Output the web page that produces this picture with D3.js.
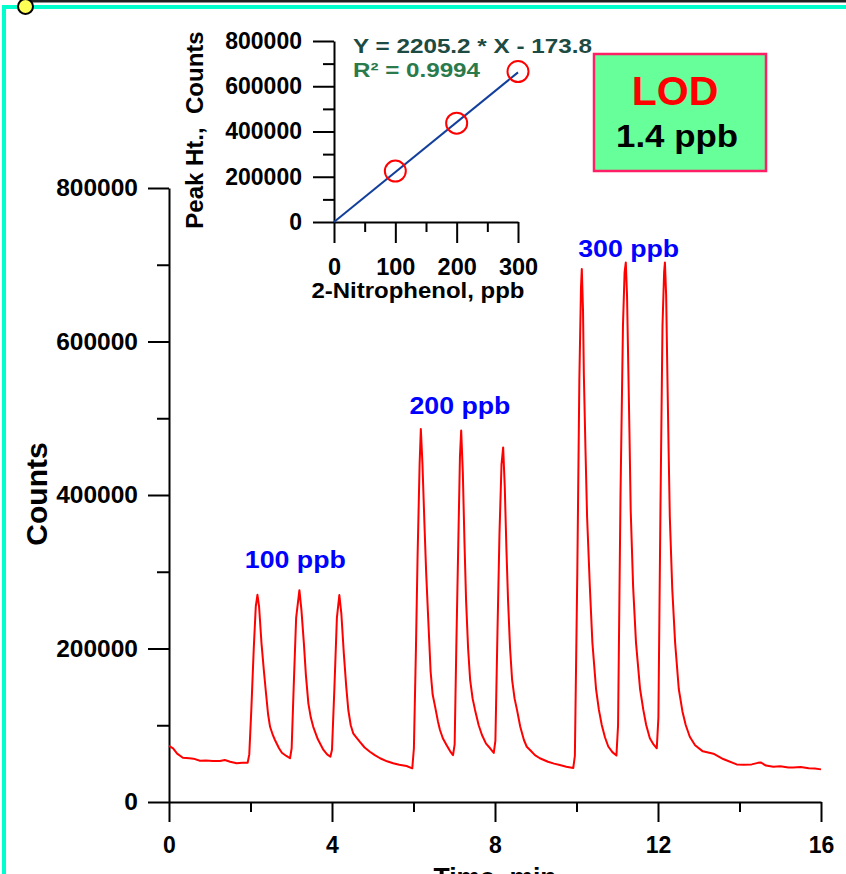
<!DOCTYPE html>
<html><head><meta charset="utf-8">
<script src="https://cdn.jsdelivr.net/npm/d3@7"></script>
<style>
body{margin:0;background:#fff;}
svg{display:block;}
text{font-family:"Liberation Sans",Arial,Helvetica,sans-serif;font-weight:bold;}
</style>
</head><body>
<svg id="c" width="846" height="874"></svg>
<script>
// ---------- Chromatogram data ----------
const timeMin = [
 0.00,0.10,0.20,0.34,0.50,0.60,0.76,0.90,1.08,1.25,1.37,1.50,1.66,1.80,1.93,
 1.97,2.02,2.08,2.13,2.17,2.21,2.27,2.33,2.38,2.43,2.48,2.55,2.60,2.70,2.77,2.88,2.97,
 3.01,3.06,3.12,3.20,3.25,3.31,3.36,3.42,3.48,3.54,3.65,3.79,3.88,3.96,
 4.00,4.06,4.12,4.18,4.23,4.29,4.35,4.40,4.46,4.52,4.60,4.68,4.80,4.93,5.05,5.18,5.35,5.50,5.65,5.83,5.97,
 6.01,6.06,6.10,6.15,6.18,6.22,6.27,6.31,6.36,6.42,6.47,6.53,6.60,6.65,6.72,6.81,6.90,6.97,
 7.01,7.05,7.10,7.14,7.17,7.21,7.25,7.29,7.34,7.39,7.45,7.51,7.60,7.68,7.78,7.88,7.97,
 8.01,8.06,8.11,8.16,8.20,8.24,8.28,8.32,8.37,8.42,8.48,8.54,8.62,8.71,8.78,8.86,8.98,9.10,9.30,9.45,9.59,9.75,9.92,
 9.96,10.02,10.07,10.11,10.13,10.16,10.18,10.22,10.26,10.33,10.39,10.48,10.55,10.62,10.70,10.78,10.88,10.98,
 11.02,11.08,11.14,11.18,11.21,11.24,11.26,11.30,11.33,11.39,11.46,11.56,11.64,11.71,11.80,11.89,11.97,
 12.01,12.06,12.11,12.15,12.17,12.20,12.23,12.26,12.29,12.35,12.42,12.51,12.60,12.68,12.78,12.91,13.10,13.36,13.60,13.93,
 14.10,14.30,14.45,14.52,14.65,14.83,15.00,15.20,15.32,15.50,15.70,15.85,16.00
];
const counts = [
 73000,70000,63000,57700,57000,56500,53800,54000,53400,53500,54700,52500,50400,51000,51200,
 62000,120000,200000,255000,270000,255000,206700,170000,142000,115000,98000,87000,80800,70000,64200,60000,57000,
 70000,150000,240000,276000,250000,206700,165000,128600,110000,98000,82000,67800,62000,59000,
 68000,150000,240000,269700,245000,193700,150000,119900,100000,89500,84000,78600,71000,65500,61000,57000,53000,50400,48500,46900,43900,
 70000,200000,320000,440000,486000,440000,360000,300000,240000,170000,140000,124200,105000,93800,83000,74300,66000,61000,
 75000,200000,340000,450000,484000,430000,340000,263000,200000,159000,135000,120000,100000,87300,76000,70000,64000,
 80000,220000,350000,440000,462000,410000,330000,263000,200000,159000,135000,120000,98000,80800,72000,67800,61000,57000,52500,50000,48200,46000,44300,
 60000,300000,550000,670000,694500,640000,557600,460000,371300,277500,207700,147200,120000,100300,84000,72300,65000,60600,
 100000,400000,620000,690000,703000,660000,600000,480000,380000,280000,207700,147200,120000,100300,83000,75000,70000,
 110000,380000,620000,690000,703000,660000,557600,460000,371300,277500,207700,147200,118000,100300,85000,74000,66000,62900,56000,49000,
 48500,49000,51000,51500,47500,46000,46500,45000,44800,45500,44000,43500,42500
];
const mainXTicks = [0,4,8,12,16];
const mainXMinor = [2,6,10,14];
const mainYTicks = [0,200000,400000,600000,800000];
const mainYMinor = [100000,300000,500000,700000];
const peakLabels = ["100 ppb","200 ppb","300 ppb"];
const peakLabelTime = [3.10,7.14,11.28];
const peakLabelCounts = [305000,505500,710000];

// ---------- Calibration inset data ----------
const calibConc = [100,200,300];
const calibPeak = [225000,437000,665000];
const fitSlope = 2205.2;
const fitIntercept = -173.8;
const insetXTicks = [0,100,200,300];
const insetXMinor = [50,150,250];
const insetYTicks = [0,200000,400000,600000,800000];
const insetYMinor = [100000,300000,500000,700000];

const svg = d3.select("#c");

// frame decorations
svg.append("rect").attr("x",4).attr("y",7).attr("width",900).attr("height",900)
  .attr("fill","none").attr("stroke","#00ffcc").attr("stroke-width",4);
svg.append("line").attr("x1",30).attr("x2",846).attr("y1",1.2).attr("y2",1.2)
  .attr("stroke","#222").attr("stroke-width",2.6);
svg.append("circle").attr("cx",25.5).attr("cy",6.5).attr("r",7.5)
  .attr("fill","#ffff55").attr("stroke","#000").attr("stroke-width",2);

// ---------- Main chart ----------
const x = d3.scaleLinear().domain([0,16]).range([169,821]);
const y = d3.scaleLinear().domain([0,800000]).range([802,188]);

function styleAxis(g, fs){
  g.attr("font-size",fs).attr("font-family",null);
  g.selectAll("path.domain").attr("stroke","#000").attr("stroke-width",2);
  g.selectAll(".tick line").attr("stroke","#000").attr("stroke-width",2);
  g.selectAll(".tick text").attr("fill","#000");
}

// minor ticks
svg.append("g").attr("transform","translate(169,0)")
  .call(d3.axisLeft(y).tickValues(mainYMinor).tickSize(12).tickFormat(""))
  .call(g=>{g.select(".domain").remove(); styleAxis(g,24);});
svg.append("g").attr("transform","translate(0,802)")
  .call(d3.axisBottom(x).tickValues(mainXMinor).tickSize(10).tickFormat(""))
  .call(g=>{g.select(".domain").remove(); styleAxis(g,23);});
// major
svg.append("g").attr("transform","translate(169,0)")
  .call(d3.axisLeft(y).tickValues(mainYTicks).tickSize(21).tickSizeOuter(0).tickPadding(10).tickFormat(d3.format("d")))
  .call(g=>styleAxis(g,24.5));
svg.append("g").attr("transform","translate(0,802)")
  .call(d3.axisBottom(x).tickValues(mainXTicks).tickSize(20).tickSizeOuter(0).tickPadding(15).tickFormat(d3.format("d")))
  .call(g=>styleAxis(g,23));

// trace
const trace = timeMin.map((t,i)=>[t,counts[i]]);
svg.append("path").datum(trace)
  .attr("d", d3.line().x(d=>x(d[0])).y(d=>y(d[1])))
  .attr("fill","none").attr("stroke","#ff0000").attr("stroke-width",2).attr("stroke-linejoin","round");

// peak labels
svg.selectAll("text.peak").data(peakLabels).join("text")
  .attr("class","peak")
  .attr("x",(d,i)=>x(peakLabelTime[i])).attr("y",(d,i)=>y(peakLabelCounts[i]))
  .attr("text-anchor","middle").attr("font-size",23).attr("fill","#0000ff")
  .attr("textLength",101).attr("lengthAdjust","spacingAndGlyphs")
  .text(d=>d);

// axis titles
svg.append("text").attr("transform","translate(47,494) rotate(-90)")
  .attr("text-anchor","middle").attr("font-size",30).attr("fill","#000").text("Counts");
svg.append("text").attr("x",495).attr("y",886)
  .attr("text-anchor","middle").attr("font-size",26).attr("fill","#000")
  .attr("textLength",123).attr("lengthAdjust","spacingAndGlyphs").text("Time, min");

// ---------- Inset ----------
const xi = d3.scaleLinear().domain([0,300]).range([334,518]);
const yi = d3.scaleLinear().domain([0,800000]).range([222,41]);

svg.append("g").attr("transform","translate(334,0)")
  .call(d3.axisLeft(yi).tickValues(insetYMinor).tickSize(11).tickFormat(""))
  .call(g=>{g.select(".domain").remove(); styleAxis(g,21);});
svg.append("g").attr("transform","translate(0,222)")
  .call(d3.axisBottom(xi).tickValues(insetXMinor).tickSize(10).tickFormat(""))
  .call(g=>{g.select(".domain").remove(); styleAxis(g,21);});
svg.append("g").attr("transform","translate(334,0)")
  .call(d3.axisLeft(yi).tickValues(insetYTicks).tickSize(21).tickSizeOuter(0).tickPadding(11).tickFormat(d3.format("d")))
  .call(g=>styleAxis(g,23));
svg.append("g").attr("transform","translate(0,222)")
  .call(d3.axisBottom(xi).tickValues(insetXTicks).tickSize(21).tickSizeOuter(0).tickPadding(15).tickFormat(d3.format("d")))
  .call(g=>styleAxis(g,23.5));

// fit line
svg.append("path").datum([0,300])
  .attr("d", d3.line().x(d=>xi(d)).y(d=>yi(fitSlope*d+fitIntercept)))
  .attr("fill","none").attr("stroke","#123f9c").attr("stroke-width",2);
// points
svg.selectAll("circle.cal").data(calibConc).join("circle")
  .attr("class","cal")
  .attr("cx",d=>xi(d)).attr("cy",(d,i)=>yi(calibPeak[i])).attr("r",10.5)
  .attr("fill","none").attr("stroke","#ff0000").attr("stroke-width",2);

// inset titles
svg.append("text").attr("transform","translate(203,130) rotate(-90)")
  .attr("text-anchor","middle").attr("font-size",24).attr("fill","#000").text("Peak Ht.,  Counts")
  .style("white-space","pre");
svg.append("text").attr("x",418).attr("y",298)
  .attr("text-anchor","middle").attr("font-size",22).attr("fill","#000")
  .attr("textLength",213).attr("lengthAdjust","spacingAndGlyphs").text("2-Nitrophenol, ppb");

// equation
svg.append("text").attr("x",353).attr("y",53).attr("font-size",21).attr("fill","#1d4a42")
  .attr("textLength",239).attr("lengthAdjust","spacingAndGlyphs")
  .text(`Y = ${fitSlope} * X - ${Math.abs(fitIntercept)}`);
svg.append("text").attr("x",353).attr("y",77).attr("font-size",21).attr("fill","#2a7a4c")
  .attr("textLength",127).attr("lengthAdjust","spacingAndGlyphs")
  .text("R\u00B2 = 0.9994");

// LOD box
svg.append("rect").attr("x",594).attr("y",54).attr("width",172).attr("height",117)
  .attr("fill","#66ff99").attr("stroke","#ff1f66").attr("stroke-width",2.5);
svg.append("text").attr("x",675).attr("y",105).attr("text-anchor","middle")
  .attr("font-size",41).attr("fill","#ff0000").text("LOD");
svg.append("text").attr("x",677).attr("y",147).attr("text-anchor","middle")
  .attr("font-size",31).attr("fill","#000")
  .attr("textLength",122).attr("lengthAdjust","spacingAndGlyphs").text("1.4 ppb");
</script>
</body></html>
